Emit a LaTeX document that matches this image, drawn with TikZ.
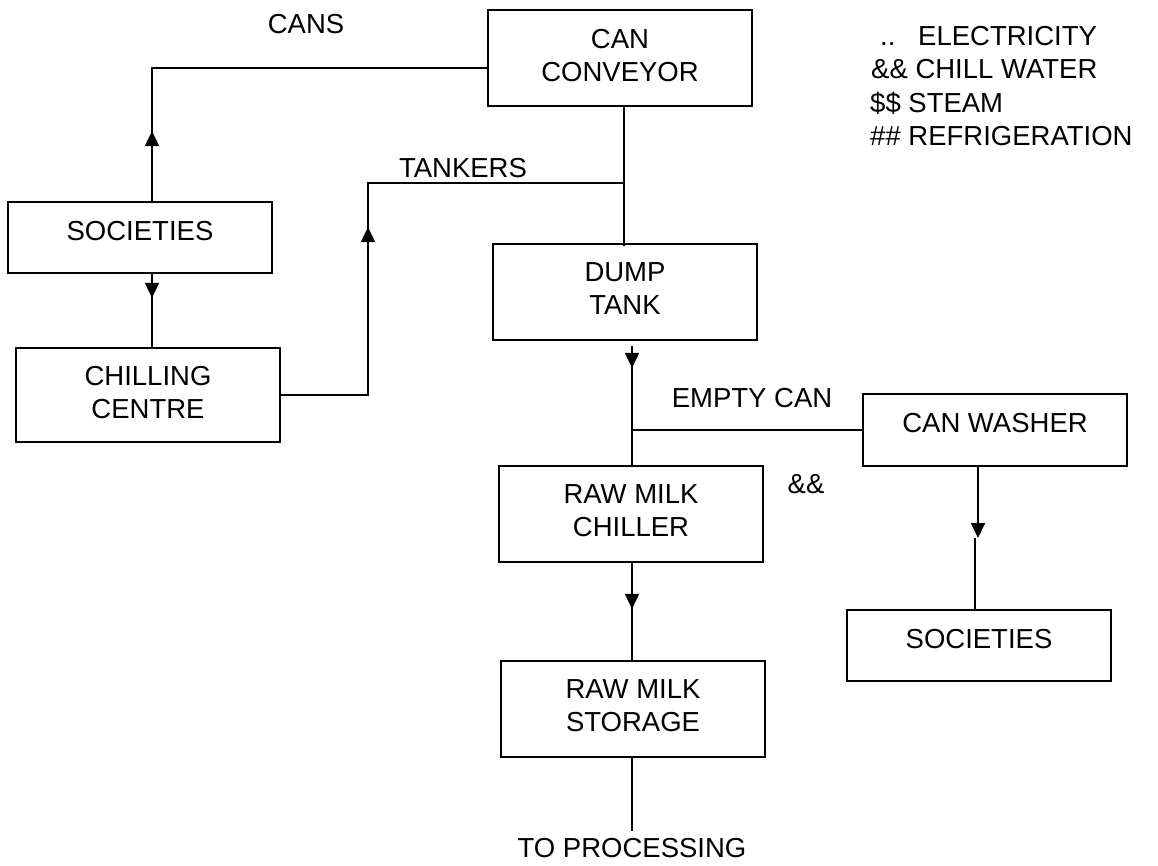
\documentclass[tikz,border=0pt]{standalone}
\usepackage{fontspec}
\setmainfont{Liberation Sans}
\usetikzlibrary{arrows.meta,decorations.markings,calc}
\begin{document}
\begin{tikzpicture}[x=1pt,y=-1pt, font=\fontsize{27.5}{33}\selectfont,
  box/.style={draw, line width=1.8pt, minimum width=264pt, minimum height=96pt, align=center, inner sep=0pt, text depth=6pt},
  onebox/.style={box, minimum height=71pt, text depth=14pt},
  conn/.style={line width=1.8pt},
  arrowat/.style={postaction={decorate}, decoration={markings, mark=at position #1 with {\arrow{Triangle[width=14pt,length=15pt]}}}},
  arrowend/.style={-{Triangle[width=14pt,length=15pt]}},
  lbl/.style={inner sep=0pt, anchor=base}]
\useasboundingbox (0,0) rectangle (1158,865);

% boxes
\node[box] (conv) at (620,58) {CAN\\CONVEYOR};
\node[onebox] (socL) at (140,237.5) {SOCIETIES};
\node[box, minimum height=94pt] (chill) at (148,395) {CHILLING\\CENTRE};
\node[box] (dump) at (625,292) {DUMP\\TANK};
\node[onebox, minimum height=72pt] (washer) at (995,430) {CAN WASHER};
\node[box] (chiller) at (631,514) {RAW MILK\\CHILLER};
\node[onebox] (socR) at (979,645.5) {SOCIETIES};
\node[box] (storage) at (633,709) {RAW MILK\\STORAGE};

% labels
\node[lbl] (cans) at (306,33) {CANS};
\node[lbl] (tankers) at (463,177) {TANKERS};
\node[lbl] (empty) at (752,407) {EMPTY CAN};
\node[lbl] (amp) at (806,493) {\&\&};
\node[inner sep=0pt, inner ysep=7pt, anchor=base] (proc) at (632,857) {TO PROCESSING};

% legend
\node[inner sep=0pt, anchor=base west] (leg1) at (880,45) {..\hspace{22.7pt}ELECTRICITY};
\node[inner sep=0pt, anchor=base west] (leg2) at (871,78) {\&\& CHILL WATER};
\node[inner sep=0pt, anchor=base west] (leg3) at (870,112) {\$\$ STEAM};
\node[inner sep=0pt, anchor=base west] (leg4) at (870,145) {\#\# REFRIGERATION};

% helper coordinates
\coordinate (xl) at (152,0);
\coordinate (cy) at (0,68);
\coordinate (tk) at (368,183);
\coordinate (xc) at (624,0);
\coordinate (xa) at (632,0);
\coordinate (xw) at (978,0);
\coordinate (xw2) at (975,0);
\coordinate (wa) at (978,538);

% connectors
\draw[conn, arrowat=70pt] (socL.north -| xl) -- (xl |- cy) -- (conv.west |- cy);
\draw[conn, arrowat=24pt] (socL.south -| xl) -- (chill.north -| xl);
\draw[conn, arrowat=255pt] (chill.east) -| (tk) -- (tk -| xc);
\draw[conn, shorten >=-3pt] (conv.south -| xc) -- (dump.north -| xc);
\draw[conn, arrowat=22pt] ($(dump.south -| xa)+(0,5)$) -- (chiller.north -| xa);
\draw[conn] (washer.west) -- (washer.west -| xa);
\draw[conn, arrowend] (washer.south -| xw) -- (wa);
\draw[conn] (wa -| xw2) -- (socR.north -| xw2);
\draw[conn, arrowat=46pt] (chiller.south -| xa) -- (storage.north -| xa);
\draw[conn] (storage.south -| xa) -- (proc.north);
\end{tikzpicture}
\end{document}
